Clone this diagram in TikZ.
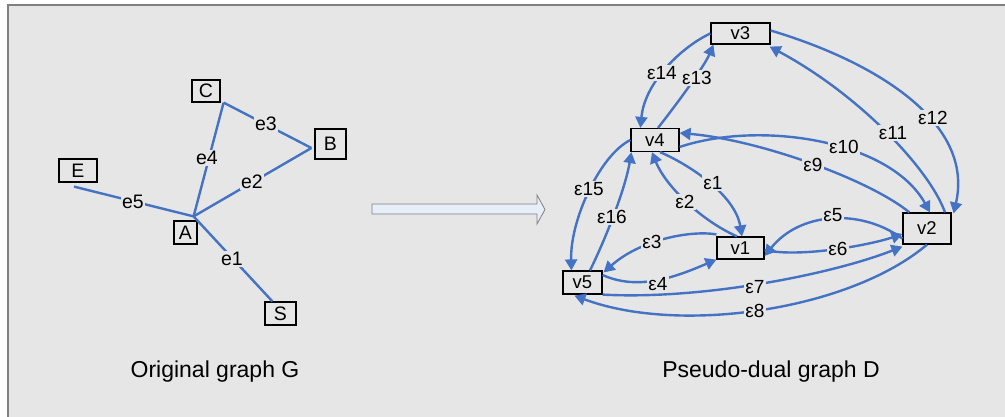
\documentclass[tikz,border=0pt]{standalone}
\usepackage{fontspec}
\setmainfont{Liberation Sans}
\usetikzlibrary{arrows.meta}
\definecolor{bg}{RGB}{230,230,230}
\definecolor{edge}{RGB}{68,114,196}
\definecolor{frame}{RGB}{128,128,128}
\definecolor{blockfill}{RGB}{232,238,248}
\tikzset{
  box/.style={draw=black, line width=1.2pt, fill=bg, inner sep=0pt},
  lnode/.style={box, font=\fontsize{19.5}{19.5}\selectfont},
  rnode/.style={box, font=\fontsize{18.5}{18.5}\selectfont},
  ln/.style={draw=edge, line width=2.4pt},
  arr/.style={draw=edge, line width=2.4pt, -{Triangle[length=11pt,width=12pt]}},
  lbl/.style={fill=bg, inner sep=1pt, font=\fontsize{19.5}{19.5}\selectfont},
  rlbl/.style={fill=bg, inner sep=1pt, font=\fontsize{19}{19}\selectfont},
  caption/.style={anchor=base, font=\fontsize{23}{23}\selectfont},
}
\begin{document}
\begin{tikzpicture}[x=1pt,y=-1pt]
\useasboundingbox (0,0) rectangle (1005,417);
\fill[bg] (8,5) rectangle (1005,417);
\draw[frame, line width=1.3pt] (8,417) -- (8,5) -- (1005,5);

% ---------- original graph ----------
\node[lnode, minimum width=28pt, minimum height=22pt] (C) at (206,91) {C};
\node[lnode, minimum width=31pt, minimum height=30pt] (B) at (330.5,144) {B};
\node[lnode, minimum width=38pt, minimum height=23pt] (E) at (78,170.5) {E};
\node[lnode, minimum width=23pt, minimum height=23pt] (A) at (185.5,232.5) {A};
\node[lnode, minimum width=31pt, minimum height=23pt] (S) at (280.5,313.5) {S};

\coordinate (J) at ([shift={(-4,-4)}]A.north east);
\coordinate (Cc) at ([shift={(3,0)}]C.south east);
\coordinate (Bc) at ([shift={(-3,4)}]B.west);
\coordinate (Ec) at ([shift={(-4,4)}]E.south);
\coordinate (Sc) at ([shift={(8,0)}]S.north west);

\draw[ln] (Cc) -- (Bc);
\draw[ln] (Cc) -- (J);
\draw[ln] (J) -- (Bc);
\draw[ln] (Ec) -- (J);
\draw[ln] (J) -- (Sc);
\node[lbl] (le3) at (266,124) {e3};
\node[lbl] (le4) at (207,158) {e4};
\node[lbl] (le2) at (252,182) {e2};
\node[lbl] (le5) at (133,202) {e5};
\node[lbl] (le1) at (232,259) {e1};

% ---------- block arrow ----------
\draw[frame, line width=0.8pt, fill=blockfill]
  (372,204) -- (537,204) -- (537,195) -- (545,209.5) -- (537,224) -- (537,214) -- (372,214) -- cycle;

% ---------- pseudo-dual graph ----------
\node[rnode, minimum width=59pt, minimum height=21pt] (v3) at (740.5,33.5) {v3};
\node[rnode, minimum width=48pt, minimum height=23pt] (v4) at (655,140) {v4};
\node[rnode, minimum width=47pt, minimum height=22pt] (v1) at (740.5,248) {v1};
\node[rnode, minimum width=39pt, minimum height=23pt] (v5) at (582.5,282.5) {v5};
\node[rnode, minimum width=48pt, minimum height=31pt] (v2) at (927,228.5) {v2};

\draw[arr] (v3.west) .. controls (685,45) and (645,80) .. ([xshift=10]v4.north west);
\draw[arr] ([xshift=3]v4.north) .. controls (680,100) and (705,65) .. ([xshift=3]v3.south west);
\draw[arr] ([yshift=3]v3.east) .. controls (870,60) and (975,120) .. ([shift={(2,1)}]v2.north east);
\draw[arr] ([xshift=18]v2.north) .. controls (930,170) and (860,95) .. ([shift={(-1,2)}]v3.south east);
\draw[arr] ([yshift=-7]v4.east) .. controls (760,120) and (890,140) .. ([xshift=3]v2.north);
\draw[arr] ([xshift=7]v2.north west) .. controls (870,180) and (760,140) .. ([yshift=7]v4.east);
\draw[arr] ([xshift=5]v4.south) .. controls (690,165) and (735,195) .. ([xshift=1.5]v1.north);
\draw[arr] ([xshift=-3.5]v1.north) .. controls (700,220) and (665,185) .. ([xshift=-3]v4.south);
\draw[arr] ([yshift=-10]v2.west) .. controls (860,208) and (800,212) .. ([yshift=-8]v1.east);
\draw[arr] ([yshift=-2]v1.east) .. controls (800,258) and (870,245) .. ([yshift=-5.5]v2.west);
\draw[arr] ([yshift=2]v1.north west) .. controls (690,230) and (640,240) .. ([shift={(1,2)}]v5.north east);
\draw[arr] ([yshift=7.5]v5.east) .. controls (640,292) and (680,275) .. (v1.south west);
\draw[arr] (v5.south east) .. controls (700,300) and (830,275) .. ([yshift=-2]v2.south west);
\draw[arr] (v2.south) .. controls (850,310) and (680,335) .. ([shift={(12,1)}]v5.south west);
\draw[arr] (v4.west) .. controls (600,155) and (570,220) .. ([xshift=9]v5.north west);
\draw[arr] ([xshift=7.5]v5.north) .. controls (605,240) and (625,190) .. ([xshift=1]v4.south west);

\node[rlbl] (l14) at (662,73) {ε14};
\node[rlbl] (l13) at (697,78) {ε13};
\node[rlbl] (l12) at (933,118) {ε12};
\node[rlbl] (l11) at (893,133) {ε11};
\node[rlbl] (l10) at (844,147) {ε10};
\node[rlbl] (l9) at (813,165) {ε9};
\node[rlbl] (l1) at (713,183) {ε1};
\node[rlbl] (l2) at (685,202) {ε2};
\node[rlbl] (l5) at (833,215) {ε5};
\node[rlbl] (l6) at (838,249) {ε6};
\node[rlbl] (l3) at (652,242) {ε3};
\node[rlbl] (l4) at (658,284) {ε4};
\node[rlbl] (l7) at (755,287) {ε7};
\node[rlbl] (l8) at (755,311) {ε8};
\node[rlbl] (l15) at (589,189) {ε15};
\node[rlbl] (l16) at (612,217) {ε16};

% ---------- captions ----------
\node[caption] (capG) at (215,377) {Original graph G};
\node[caption] (capD) at (771,377) {Pseudo-dual graph D};
\end{tikzpicture}
\end{document}
